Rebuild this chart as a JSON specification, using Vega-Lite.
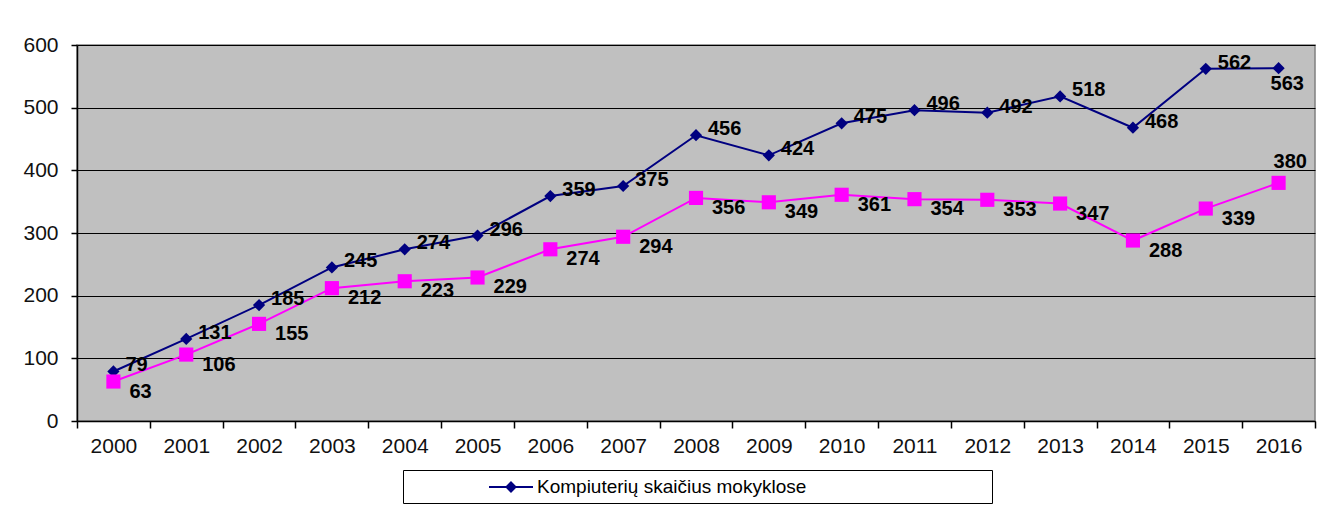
{
  "$schema": "https://vega.github.io/schema/vega-lite/v6.json",
  "autosize": "none",
  "padding": {"left": 77, "top": 45, "right": 11, "bottom": 85},
  "width": 1238,
  "height": 376,
  "background": "white",
  "config": {
    "font": "Liberation Sans",
    "view": {"fill": "#C0C0C0", "stroke": "#808080", "strokeWidth": 1.5}
  },
  "data": {
    "values": [
      {"year": "2000", "series": "Kompiuterių skaičius mokyklose", "value": 79},
      {"year": "2001", "series": "Kompiuterių skaičius mokyklose", "value": 131},
      {"year": "2002", "series": "Kompiuterių skaičius mokyklose", "value": 185},
      {"year": "2003", "series": "Kompiuterių skaičius mokyklose", "value": 245},
      {"year": "2004", "series": "Kompiuterių skaičius mokyklose", "value": 274},
      {"year": "2005", "series": "Kompiuterių skaičius mokyklose", "value": 296},
      {"year": "2006", "series": "Kompiuterių skaičius mokyklose", "value": 359},
      {"year": "2007", "series": "Kompiuterių skaičius mokyklose", "value": 375},
      {"year": "2008", "series": "Kompiuterių skaičius mokyklose", "value": 456},
      {"year": "2009", "series": "Kompiuterių skaičius mokyklose", "value": 424},
      {"year": "2010", "series": "Kompiuterių skaičius mokyklose", "value": 475},
      {"year": "2011", "series": "Kompiuterių skaičius mokyklose", "value": 496},
      {"year": "2012", "series": "Kompiuterių skaičius mokyklose", "value": 492},
      {"year": "2013", "series": "Kompiuterių skaičius mokyklose", "value": 518},
      {"year": "2014", "series": "Kompiuterių skaičius mokyklose", "value": 468},
      {"year": "2015", "series": "Kompiuterių skaičius mokyklose", "value": 562},
      {"year": "2016", "series": "Kompiuterių skaičius mokyklose", "value": 563},
      {"year": "2000", "series": "Antra serija", "value": 63},
      {"year": "2001", "series": "Antra serija", "value": 106},
      {"year": "2002", "series": "Antra serija", "value": 155},
      {"year": "2003", "series": "Antra serija", "value": 212},
      {"year": "2004", "series": "Antra serija", "value": 223},
      {"year": "2005", "series": "Antra serija", "value": 229},
      {"year": "2006", "series": "Antra serija", "value": 274},
      {"year": "2007", "series": "Antra serija", "value": 294},
      {"year": "2008", "series": "Antra serija", "value": 356},
      {"year": "2009", "series": "Antra serija", "value": 349},
      {"year": "2010", "series": "Antra serija", "value": 361},
      {"year": "2011", "series": "Antra serija", "value": 354},
      {"year": "2012", "series": "Antra serija", "value": 353},
      {"year": "2013", "series": "Antra serija", "value": 347},
      {"year": "2014", "series": "Antra serija", "value": 288},
      {"year": "2015", "series": "Antra serija", "value": 339},
      {"year": "2016", "series": "Antra serija", "value": 380}
    ]
  },
  "encoding": {
    "x": {
      "field": "year", "type": "ordinal",
      "scale": {"type": "band", "paddingInner": 0, "paddingOuter": 0},
      "axis": {
        "title": null, "labelAngle": 0, "tickBand": "extent",
        "domainColor": "#000000", "domainWidth": 1.5,
        "tickColor": "#000000", "tickSize": 7, "tickWidth": 1.5,
        "labelFontSize": 21, "labelColor": "#111111", "labelPadding": 7,
        "grid": false
      }
    },
    "y": {
      "field": "value", "type": "quantitative",
      "scale": {"domain": [0, 600], "nice": false},
      "axis": {
        "title": null, "values": [0, 100, 200, 300, 400, 500, 600],
        "grid": true, "gridColor": "#000000", "gridOpacity": 1, "gridWidth": 1,
        "domainColor": "#000000", "domainWidth": 1.5,
        "tickColor": "#000000", "tickSize": 6, "tickWidth": 1.5,
        "labelFontSize": 21, "labelColor": "#111111", "labelPadding": 13
      }
    }
  },
  "layer": [
    {
      "transform": [{"filter": "datum.series === 'Kompiuterių skaičius mokyklose'"}],
      "mark": {"type": "line", "strokeWidth": 2},
      "encoding": {
        "color": {
          "field": "series", "type": "nominal",
          "scale": {"domain": ["Kompiuterių skaičius mokyklose"], "range": ["#000080"]},
          "legend": {
            "title": null, "orient": "none", "legendX": 326, "legendY": 425,
            "strokeColor": "#000000", "fillColor": "#FFFFFF", "padding": 6, "cornerRadius": 0,
            "symbolType": "M-2.2,0L2.2,0M0,-0.45L0.45,0L0,0.45L-0.45,0Z",
            "symbolSize": 400, "symbolStrokeWidth": 2, "symbolOffset": 91, "labelOffset": 15,
            "labelFontSize": 19, "labelColor": "#000000", "labelLimit": 800,
            "labelExpr": "pad(datum.label, 64, '\\u00a0') + '\\u200b'",
            "encode": {"symbols": {"update": {"fill": {"value": "#000080"}, "stroke": {"value": "#000080"}, "opacity": {"value": 1}}}}
          }
        }
      }
    },
    {
      "transform": [{"filter": "datum.series === 'Kompiuterių skaičius mokyklose'"}],
      "mark": {"type": "point", "shape": "diamond", "filled": true, "size": 150, "opacity": 1, "color": "#000080"},
      "encoding": {}
    },
    {
      "transform": [{"filter": "datum.series === 'Antra serija'"}],
      "mark": {"type": "line", "strokeWidth": 2, "color": "#FF00FF"},
      "encoding": {}
    },
    {
      "transform": [{"filter": "datum.series === 'Antra serija'"}],
      "mark": {"type": "point", "shape": "square", "filled": true, "size": 200, "opacity": 1, "color": "#FF00FF"},
      "encoding": {}
    },
    {
      "transform": [{"filter": "datum.series === 'Kompiuterių skaičius mokyklose'"}],
      "mark": {"type": "text", "align": "left", "baseline": "middle", "dx": {"expr": "datum.year === '2016' ? -8 : 12"}, "dy": {"expr": "datum.year === '2016' ? 16 : -6"}, "fontSize": 20, "fontWeight": "bold", "color": "#000000"},
      "encoding": {"text": {"field": "value", "type": "quantitative"}}
    },
    {
      "transform": [{"filter": "datum.series === 'Antra serija'"}],
      "mark": {"type": "text", "align": "left", "baseline": "middle", "dx": {"expr": "datum.year === '2016' ? -5 : 16"}, "dy": {"expr": "datum.year === '2016' ? -21 : 10"}, "fontSize": 20, "fontWeight": "bold", "color": "#000000"},
      "encoding": {"text": {"field": "value", "type": "quantitative"}}
    }
  ]
}
